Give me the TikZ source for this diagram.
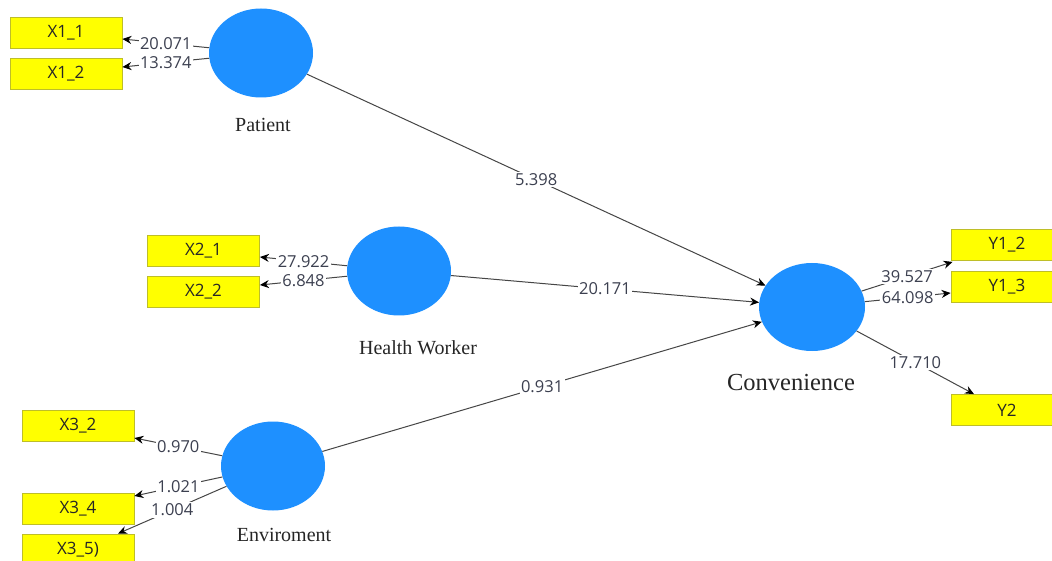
\documentclass[tikz,border=0pt]{standalone}
\usepackage{fontspec}
\setmainfont{Open Sans}
\newfontfamily\lvfont{Liberation Serif}
\usetikzlibrary{shapes.geometric,arrows.meta}
\definecolor{circblue}{RGB}{30,144,255}
\definecolor{boxyellow}{RGB}{255,255,0}
\definecolor{boxline}{RGB}{190,190,40}
\definecolor{numcol}{RGB}{60,64,80}
\definecolor{linecol}{RGB}{70,70,70}
\tikzset{
  latent/.style={ellipse, fill=circblue, draw=none, minimum width=104pt, minimum height=89pt, inner sep=0pt},
  indic/.style={rectangle, fill=boxyellow, draw=boxline, line width=0.8pt, minimum width=112pt, minimum height=31pt, inner sep=0pt, font=\fontsize{17}{18}\selectfont, text=black!85},
  lvlabel/.style={font=\lvfont\fontsize{20}{22}\selectfont, text=black!85, inner sep=0pt},
  conn/.style={draw=linecol, line width=1pt, -{Stealth[length=9pt,width=8pt,color=black]}},
  wt/.style={fill=white, inner sep=1.5pt, font=\fontsize{16.5}{18}\selectfont, text=numcol, pos=0.5}
}
\begin{document}
\begin{tikzpicture}[x=1pt,y=-1pt]
\useasboundingbox (0,0) rectangle (1052,561);
\fill[white] (0,0) rectangle (1052,561);
\begin{scope}
\clip (0,0) rectangle (1052,561);
% latent variables
\node[latent] (pat) at (261,53) {};
\node[latent] (hw) at (399,271) {};
\node[latent] (env) at (273,466) {};
\node[latent, minimum width=106pt, minimum height=88pt] (conv) at (812,307) {};
% labels
\node[lvlabel] (patl) at (263,125) {Patient};
\node[lvlabel] (hwl) at (418,348) {Health Worker};
\node[lvlabel] (envl) at (284,535) {Enviroment};
\node[lvlabel, font=\lvfont\fontsize{24.5}{26}\selectfont] (convl) at (791,383) {Convenience};
% indicators
\node[indic] (x11) at (66,32.5) {X1\_1};
\node[indic] (x12) at (66,73.5) {X1\_2};
\node[indic] (x21) at (203.5,250.5) {X2\_1};
\node[indic] (x22) at (203.5,291.5) {X2\_2};
\node[indic] (x32) at (78,426) {X3\_2};
\node[indic] (x34) at (78,508.5) {X3\_4};
\node[indic] (x35) at (78,549.5) {X3\_5)};
\node[indic] (y12) at (1007,245) {Y1\_2};
\node[indic] (y13) at (1007,286.5) {Y1\_3};
\node[indic] (y2) at (1007,410) {Y2};
% outer loadings
\draw[conn] (pat) -- ([yshift=-6.5pt]x11.east) node[wt] {20.071};
\draw[conn] (pat) -- ([yshift=6.5pt]x12.east) node[wt] {13.374};
\draw[conn] (hw) -- ([yshift=-6.5pt]x21.east) node[wt] {27.922};
\draw[conn] (hw) -- ([yshift=6.5pt]x22.east) node[wt] {6.848};
\draw[conn] (env) -- ([yshift=-12pt]x32.east) node[wt] {0.970};
\draw[conn] (env) -- ([yshift=12.5pt]x34.east) node[wt] {1.021};
\draw[conn] (env) -- ([xshift=40pt]x35.north) node[wt] {1.004};
% structural paths
\draw[conn] (pat) -- (conv) node[wt] {5.398};
\draw[conn] (hw) -- (conv) node[wt] {20.171};
\draw[conn] (env) -- (conv) node[wt] {0.931};
% reflective Y
\draw[conn] (conv) -- ([xshift=2pt,yshift=-1pt]y12.south west) node[wt] {39.527};
\draw[conn] (conv) -- ([yshift=-6.5pt]y13.west) node[wt] {64.098};
\draw[conn] (conv) -- ([xshift=-33pt]y2.north) node[wt] {17.710};
\end{scope}
\end{tikzpicture}
\end{document}
